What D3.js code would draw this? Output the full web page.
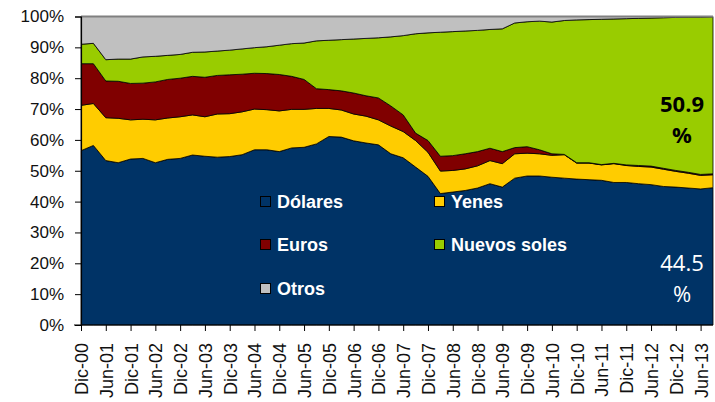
<!DOCTYPE html>
<html>
<head>
<meta charset="utf-8">
<script src="https://cdn.jsdelivr.net/npm/d3@7"></script>
<style>
  html, body { margin: 0; padding: 0; background: #fff; }
  svg { display: block; }
</style>
</head>
<body>
<svg id="chart" width="715" height="402"></svg>
<script>
// Quarterly periods, Dec-2000 to Sep-2013
const periods = [
  "Dic-00","Mar-01","Jun-01","Sep-01","Dic-01","Mar-02","Jun-02","Sep-02",
  "Dic-02","Mar-03","Jun-03","Sep-03","Dic-03","Mar-04","Jun-04","Sep-04",
  "Dic-04","Mar-05","Jun-05","Sep-05","Dic-05","Mar-06","Jun-06","Sep-06",
  "Dic-06","Mar-07","Jun-07","Sep-07","Dic-07","Mar-08","Jun-08","Sep-08",
  "Dic-08","Mar-09","Jun-09","Sep-09","Dic-09","Mar-10","Jun-10","Sep-10",
  "Dic-10","Mar-11","Jun-11","Sep-11","Dic-11","Mar-12","Jun-12","Sep-12",
  "Dic-12","Mar-13","Jun-13","Sep-13"
];

// Axis tick labels (every six months)
const tickLabels = [
  "Dic-00","Jun-01","Dic-01","Jun-02","Dic-02","Jun-03","Dic-03","Jun-04",
  "Dic-04","Jun-05","Dic-05","Jun-06","Dic-06","Jun-07","Dic-07","Jun-08",
  "Dic-08","Jun-09","Dic-09","Jun-10","Dic-10","Jun-11","Dic-11","Jun-12",
  "Dic-12","Jun-13"
];
const yTicks = [0, 0.1, 0.2, 0.3, 0.4, 0.5, 0.6, 0.7, 0.8, 0.9, 1.0];

// Currency shares (%)
const dolares = [
  56.5, 58.2, 53.3, 52.6, 53.8, 54.0, 52.6, 53.7, 54.0, 55.1, 54.7, 54.4, 54.6,
  55.2, 56.8, 56.8, 56.2, 57.4, 57.6, 58.7, 61.1, 60.9, 59.7, 59.0, 58.4, 55.5,
  54.2, 51.2, 48.2, 42.6, 43.1, 43.6, 44.4, 45.8, 44.7, 47.6, 48.3, 48.3, 47.9,
  47.6, 47.3, 47.1, 46.9, 46.2, 46.2, 45.8, 45.5, 44.9, 44.7, 44.4, 44.1, 44.5
];
const yenes = [
  14.7, 13.6, 13.9, 14.4, 12.7, 12.7, 13.9, 13.4, 13.5, 13.0, 12.8, 14.0, 13.9,
  13.9, 13.2, 13.0, 13.2, 12.5, 12.3, 11.5, 9.1, 8.8, 8.7, 8.7, 8.1, 9.0,
  8.5, 8.6, 7.8, 7.3, 7.0, 7.0, 7.2, 7.5, 7.6, 7.9, 7.4, 7.2, 7.1,
  7.6, 5.2, 5.4, 5.0, 6.1, 5.5, 5.6, 5.7, 5.6, 5.1, 4.8, 4.4, 4.2
];
const euros = [
  13.5, 12.9, 11.9, 12.0, 11.8, 11.7, 12.3, 12.5, 12.5, 12.5, 12.8, 12.5, 12.6,
  12.2, 11.6, 11.7, 11.8, 10.7, 9.7, 6.4, 6.1, 6.2, 6.8, 6.6, 7.1, 6.5,
  5.4, 2.4, 3.8, 4.8, 4.8, 4.9, 4.6, 4.0, 3.9, 2.0, 2.1, 1.3, 0.5,
  0.1, 0.1, 0.1, 0.1, 0.1, 0.2, 0.3, 0.3, 0.3, 0.3, 0.3, 0.3, 0.3
];
const nuevosSoles = [
  6.3, 6.6, 6.9, 7.2, 7.9, 8.5, 8.3, 7.8, 7.7, 7.8, 8.2, 7.9, 8.0,
  8.2, 8.3, 8.7, 9.5, 10.6, 11.8, 15.5, 16.0, 16.6, 17.5, 18.6, 19.5, 22.4,
  25.7, 32.2, 34.9, 40.2, 40.2, 39.8, 39.3, 38.5, 39.8, 40.4, 40.5, 41.7, 42.7,
  43.4, 46.3, 46.4, 47.1, 46.8, 47.4, 47.7, 48.0, 48.8, 49.6, 50.3, 51.0, 50.9
];
const otros = [
  9.0, 8.7, 14.0, 13.8, 13.8, 13.1, 12.9, 12.6, 12.3, 11.6, 11.5, 11.2, 10.9,
  10.5, 10.1, 9.8, 9.3, 8.8, 8.6, 7.9, 7.7, 7.5, 7.3, 7.1, 6.9, 6.6,
  6.2, 5.6, 5.3, 5.1, 4.9, 4.7, 4.5, 4.2, 4.0, 2.1, 1.7, 1.5, 1.8,
  1.3, 1.1, 1.0, 0.9, 0.8, 0.7, 0.6, 0.5, 0.4, 0.3, 0.2, 0.2, 0.1
];

const seriesNames = ["Dólares", "Yenes", "Euros", "Nuevos soles", "Otros"];
const seriesColors = ["#003366", "#FFCC00", "#800000", "#99CC00", "#C0C0C0"];

// Final-period labels
const labelSoles = "50.9";
const labelDolares = "44.5";

const svg = d3.select("#chart");
const margin = { left: 81, right: 2, top: 16.5, bottom: 77 };
const W = 715, H = 402;

const rows = periods.map((p, i) => ({
  "Dólares": dolares[i], "Yenes": yenes[i], "Euros": euros[i],
  "Nuevos soles": nuevosSoles[i], "Otros": otros[i]
}));

const stack = d3.stack().keys(seriesNames).offset(d3.stackOffsetExpand);
const layers = stack(rows);

const x = d3.scaleLinear().domain([0, periods.length - 1]).range([margin.left, W - margin.right]);
const y = d3.scaleLinear().domain([0, 1]).range([H - margin.bottom, margin.top]);

const area = d3.area()
  .x((d, i) => x(i))
  .y0(d => y(d[0]))
  .y1(d => y(d[1]));

const topLine = d3.line()
  .x((d, i) => x(i))
  .y(d => y(d[1]));

const g = svg.append("g");

g.selectAll("path.layer")
  .data(layers)
  .join("path")
  .attr("class", "layer")
  .attr("d", area)
  .attr("fill", (d, i) => seriesColors[i])
  .attr("stroke", "#000")
  .attr("stroke-width", 0.8)
  .attr("stroke-linejoin", "round");

// top boundary of the stack
g.append("path")
  .datum(layers[layers.length - 1])
  .attr("d", topLine)
  .attr("fill", "none")
  .attr("stroke", "#808080")
  .attr("stroke-width", 2);

// Y axis
const yAxis = d3.axisLeft(y)
  .tickValues(yTicks)
  .tickFormat(d3.format(".0%"))
  .tickSize(6)
  .tickPadding(11);

const yG = svg.append("g")
  .attr("transform", `translate(${margin.left},0)`)
  .call(yAxis);
yG.select(".domain").attr("stroke", "#000").attr("stroke-width", 1.2);
yG.selectAll(".tick line").attr("stroke", "#000").attr("stroke-width", 1);
yG.selectAll(".tick text")
  .attr("font-family", "'Liberation Sans', Arial, sans-serif")
  .attr("font-size", 17)
  .attr("fill", "#111");

// X axis
const xAxis = d3.axisBottom(x)
  .tickValues(tickLabels.map((lab) => periods.indexOf(lab)))
  .tickFormat(i => periods[i])
  .tickSize(6)
  .tickSizeOuter(0);

const xG = svg.append("g")
  .attr("transform", `translate(0,${H - margin.bottom})`)
  .call(xAxis);
xG.select(".domain").attr("stroke", "#000").attr("stroke-width", 1.2)
  .attr("d", `M${margin.left - 7},0H${W - margin.right}`);
xG.selectAll(".tick line").attr("stroke", "#000").attr("stroke-width", 1);
xG.selectAll(".tick text")
  .attr("font-family", "'Liberation Sans', Arial, sans-serif")
  .attr("font-size", 18)
  .attr("fill", "#111")
  .attr("text-anchor", "end")
  .attr("transform", "translate(0,18) rotate(-90)")
  .attr("x", 0)
  .attr("y", 0)
  .attr("dy", "0.36em");

// Legend
const legendItems = [
  { name: "Dólares", color: seriesColors[0], x: 260, y: 202 },
  { name: "Euros", color: seriesColors[2], x: 260, y: 245 },
  { name: "Otros", color: seriesColors[4], x: 260, y: 289 },
  { name: "Yenes", color: seriesColors[1], x: 434, y: 202 },
  { name: "Nuevos soles", color: seriesColors[3], x: 434, y: 245 }
];
const lg = svg.append("g").selectAll("g").data(legendItems).join("g")
  .attr("transform", d => `translate(${d.x},${d.y})`);
lg.append("rect")
  .attr("x", 0.5).attr("y", -5.5)
  .attr("width", 10).attr("height", 10)
  .attr("fill", d => d.color)
  .attr("stroke", "#000").attr("stroke-width", 1);
lg.append("text")
  .attr("x", 17).attr("y", 0).attr("dy", "0.36em")
  .attr("font-family", "'Liberation Sans', Arial, sans-serif")
  .attr("font-weight", "bold")
  .attr("font-size", 18)
  .attr("fill", "#fff")
  .text(d => d.name);

// Value annotations for the last period
const ann = svg.append("g")
  .attr("font-family", "'Open Sans', sans-serif")
  .attr("font-size", 22)
  .attr("text-anchor", "middle");
ann.append("text").attr("x", 682).attr("y", 112).attr("font-weight", "bold").attr("fill", "#000").text(labelSoles);
ann.append("text").attr("x", 682).attr("y", 143).attr("font-weight", "bold").attr("fill", "#000").text("%");
ann.append("text").attr("x", 682).attr("y", 271).attr("fill", "#fff").text(labelDolares);
ann.append("text").attr("x", 682).attr("y", 302).attr("fill", "#fff").text("%");
</script>
</body>
</html>
